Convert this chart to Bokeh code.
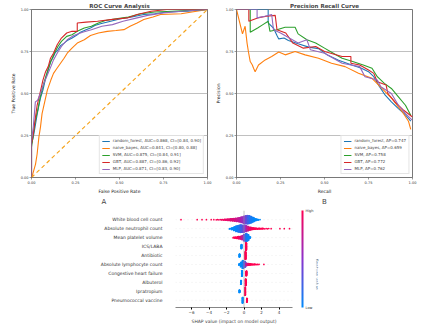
import math
from bokeh.plotting import figure
from bokeh.layouts import column, row
from bokeh.models import (Range1d, FixedTicker, Title, ColorBar, LinearColorMapper,
                          Span, PrintfTickFormatter, LinearAxis)
from bokeh.embed import file_html
from bokeh.resources import INLINE

FONT = "DejaVu Sans"

# ---------------- data ----------------
models = ["random_forest", "naive_bayes", "SVM", "GBT", "MLP"]
model_colors = ["#1f77b4", "#ff7f0e", "#2ca02c", "#d62728", "#9467bd"]
auc = [0.868, 0.841, 0.875, 0.887, 0.871]
ci_lo = [0.84, 0.80, 0.84, 0.86, 0.83]
ci_hi = [0.90, 0.88, 0.91, 0.92, 0.90]
ap = [0.747, 0.659, 0.758, 0.772, 0.762]

rf_fpr = [0, 0, 0.01, 0.02, 0.032, 0.05, 0.065, 0.08, 0.095, 0.108, 0.12, 0.136, 0.15, 0.165, 0.185, 0.203, 0.231, 0.26, 0.278, 0.31, 0.335, 0.36, 0.392, 0.45, 0.506, 0.57, 0.638, 0.7, 0.77, 0.884, 1]
rf_tpr = [0, 0.2, 0.24, 0.3, 0.375, 0.47, 0.52, 0.59, 0.64, 0.69, 0.71, 0.745, 0.76, 0.785, 0.8, 0.815, 0.83, 0.85, 0.865, 0.88, 0.89, 0.905, 0.915, 0.93, 0.945, 0.955, 0.97, 0.975, 0.985, 0.99, 1]
nb_fpr = [0, 0.007, 0.023, 0.032, 0.042, 0.051, 0.06, 0.075, 0.09, 0.11, 0.125, 0.145, 0.165, 0.185, 0.203, 0.23, 0.26, 0.3, 0.335, 0.38, 0.43, 0.48, 0.525, 0.56, 0.6, 0.638, 0.69, 0.733, 0.85, 1]
nb_tpr = [0, 0.02, 0.08, 0.14, 0.24, 0.3, 0.38, 0.45, 0.52, 0.58, 0.62, 0.65, 0.68, 0.71, 0.74, 0.77, 0.8, 0.82, 0.845, 0.86, 0.87, 0.875, 0.88, 0.9, 0.92, 0.94, 0.955, 0.97, 0.975, 1]
svm_fpr = [0, 0, 0.01, 0.02, 0.035, 0.05, 0.07, 0.09, 0.11, 0.13, 0.15, 0.17, 0.2, 0.23, 0.26, 0.3, 0.34, 0.38, 0.42, 0.48, 0.55, 0.62, 0.7, 0.8, 0.9, 1]
svm_tpr = [0, 0.18, 0.25, 0.33, 0.4, 0.48, 0.56, 0.63, 0.69, 0.74, 0.78, 0.81, 0.84, 0.85, 0.87, 0.89, 0.9, 0.92, 0.935, 0.945, 0.955, 0.975, 0.985, 0.99, 0.995, 1]
gbt_fpr = [0, 0, 0.01, 0.02, 0.032, 0.05, 0.065, 0.08, 0.095, 0.108, 0.125, 0.146, 0.17, 0.2, 0.23, 0.26, 0.26, 0.31, 0.375, 0.45, 0.545, 0.6, 0.68, 0.77, 1]
gbt_tpr = [0, 0.2, 0.26, 0.34, 0.43, 0.51, 0.58, 0.63, 0.66, 0.71, 0.74, 0.79, 0.83, 0.86, 0.87, 0.87, 0.92, 0.925, 0.93, 0.94, 0.95, 0.97, 0.99, 1, 1]
mlp_fpr = [0, 0, 0.01, 0.022, 0.035, 0.05, 0.07, 0.09, 0.11, 0.125, 0.146, 0.17, 0.203, 0.24, 0.29, 0.34, 0.4, 0.46, 0.52, 0.6, 0.66, 0.75, 0.85, 1]
mlp_tpr = [0, 0.22, 0.3, 0.45, 0.46, 0.5, 0.56, 0.61, 0.66, 0.7, 0.74, 0.78, 0.82, 0.845, 0.865, 0.88, 0.9, 0.91, 0.93, 0.95, 0.965, 0.98, 0.99, 1]

rf_rec = [0, 0.18, 0.18, 0.2, 0.21, 0.23, 0.24, 0.27, 0.295, 0.35, 0.41, 0.466, 0.52, 0.58, 0.655, 0.71, 0.75, 0.78, 0.807, 0.845, 0.88, 0.92, 0.958, 0.99]
rf_prec = [1, 1, 0.92, 0.9, 0.89, 0.845, 0.825, 0.83, 0.816, 0.796, 0.776, 0.767, 0.727, 0.698, 0.67, 0.65, 0.63, 0.6, 0.55, 0.49, 0.45, 0.41, 0.375, 0.335]
nb_rec = [0, 0.034, 0.049, 0.06, 0.068, 0.078, 0.09, 0.097, 0.106, 0.125, 0.163, 0.2, 0.24, 0.277, 0.333, 0.39, 0.466, 0.54, 0.617, 0.693, 0.77, 0.826, 0.883, 0.94, 0.977, 0.99]
nb_prec = [1, 0.855, 0.9, 0.8, 0.747, 0.69, 0.67, 0.65, 0.63, 0.67, 0.70, 0.72, 0.747, 0.73, 0.75, 0.73, 0.71, 0.68, 0.66, 0.62, 0.59, 0.53, 0.47, 0.394, 0.335, 0.286]
svm_rec = [0, 0.078, 0.078, 0.12, 0.15, 0.18, 0.19, 0.23, 0.276, 0.333, 0.35, 0.4, 0.45, 0.5, 0.55, 0.6, 0.66, 0.72, 0.77, 0.8, 0.84, 0.88, 0.92, 0.96, 0.99]
svm_prec = [1, 1, 0.865, 0.89, 0.91, 0.93, 0.87, 0.88, 0.894, 0.894, 0.855, 0.82, 0.8, 0.77, 0.74, 0.71, 0.69, 0.67, 0.65, 0.6, 0.56, 0.53, 0.48, 0.43, 0.37]
gbt_rec = [0, 0.07, 0.07, 0.12, 0.17, 0.22, 0.23, 0.28, 0.32, 0.38, 0.45, 0.5, 0.6, 0.65, 0.65, 0.7, 0.75, 0.78, 0.8, 0.85, 0.86, 0.9, 0.95, 1.0]
gbt_prec = [1, 1, 0.93, 0.95, 0.96, 0.965, 0.88, 0.86, 0.8, 0.77, 0.78, 0.75, 0.72, 0.72, 0.68, 0.67, 0.64, 0.62, 0.57, 0.55, 0.5, 0.45, 0.4, 0.36]
mlp_rec = [0, 0.117, 0.117, 0.16, 0.2, 0.21, 0.25, 0.3, 0.35, 0.4, 0.42, 0.5, 0.55, 0.6, 0.7, 0.73, 0.8, 0.82, 0.88, 0.92, 0.96, 1.0]
mlp_prec = [1, 1, 0.95, 0.96, 0.97, 0.88, 0.86, 0.83, 0.8, 0.82, 0.76, 0.74, 0.71, 0.68, 0.66, 0.6, 0.58, 0.54, 0.5, 0.43, 0.38, 0.34]

axis_ticks = [0, 0.25, 0.5, 0.75, 1.0]

# SHAP summary (values read as binned counts; colour = feature value 0 low .. 1 high)
features = ["White blood cell count", "Absolute neutrophil count", "Mean platelet volume",
            "ICS/LABA", "Antibiotic", "Absolute lymphocyte count", "Congestive heart failure",
            "Albuterol", "Ipratropium", "Pneumococcal vaccine"]
wbc_shap = [-7.2, -5.35, -4.8, -4.3, -3.75, -3.45, -3.05, -2.75, -2.45, -2.2, -1.95, -1.7, -1.45, -1.2, -0.95, -0.7, -0.45, -0.2, 0.05, 0.3, 0.55, 0.8, 1.05, 1.3, 1.55, 1.8]
wbc_count = [1, 1, 1, 1, 1, 1, 2, 2, 3, 5, 7, 9, 12, 15, 18, 22, 28, 36, 46, 54, 52, 42, 28, 14, 6, 2]
wbc_color = [1, 1, 1, 1, 1, 1, 1, 0.95, 0.95, 0.95, 0.9, 0.9, 0.85, 0.85, 0.8, 0.75, 0.7, 0.6, 0.5, 0.35, 0.2, 0.1, 0.05, 0, 0, 0]
anc_shap = [-1.55, -1.3, -1.05, -0.8, -0.55, -0.3, -0.05, 0.2, 0.45, 0.7, 0.95, 1.2, 1.45, 1.7, 1.95, 2.2, 2.5, 2.8, 3.1, 4.1, 4.6, 5.2]
anc_count = [4, 12, 24, 36, 44, 48, 46, 38, 28, 18, 12, 8, 6, 5, 4, 3, 2, 2, 1, 1, 1, 1]
anc_color = [0, 0, 0, 0.05, 0.1, 0.2, 0.35, 0.55, 0.75, 0.9, 0.95, 1, 1, 1, 1, 1, 1, 1, 1, 1, 1, 1]
mpv_shap = [-1.15, -0.95, -0.75, -0.55, -0.35, -0.15, 0.05, 0.25, 0.45, 0.65]
mpv_count = [3, 6, 10, 14, 18, 26, 40, 52, 40, 10]
mpv_color = [1, 1, 1, 0.95, 0.85, 0.7, 0.4, 0.15, 0.05, 0]
ics_shap, ics_count, ics_color = [-0.29, 0.25], [26, 48], [0, 1]
abx_shap, abx_count, abx_color = [-0.51, 0.17], [18, 50], [0, 1]
alc_shap = [-0.5, -0.3, -0.1, 0.1, 0.3, 0.5, 0.7, 0.9, 1.1, 1.3, 1.5, 1.7, 2.27]
alc_count = [8, 30, 50, 36, 16, 10, 7, 5, 4, 3, 2, 2, 1]
alc_color = [0, 0, 0.05, 0.3, 0.7, 0.9, 1, 1, 1, 1, 1, 1, 1]
chf_shap, chf_count, chf_color = [-0.23, 0.27], [36, 30], [0, 1]
alb_shap, alb_count, alb_color = [-0.34, 0.2], [24, 42], [0, 1]
ipr_shap, ipr_count, ipr_color = [-0.51, 0.13], [16, 52], [0, 1]
pnv_shap, pnv_count, pnv_color = [-0.15, 0.34], [36, 24], [0, 1]
shap_ticks = [-6, -4, -2, 0, 2, 4]

# ---------------- helpers ----------------
def cmap(t):
    stops = [(0.0, (0, 139, 251)), (0.5, (140, 50, 205)), (1.0, (255, 0, 82))]
    for (t0, c0), (t1, c1) in zip(stops[:-1], stops[1:]):
        if t <= t1:
            f = (t - t0) / (t1 - t0)
            return "#%02x%02x%02x" % tuple(int(round(a + (b - a) * f)) for a, b in zip(c0, c1))
    return "#ff0052"

def style_top(p, xlabel, ylabel):
    p.x_range = Range1d(0, 1)
    p.y_range = Range1d(0, 1)
    for ax in (p.xaxis[0], p.yaxis[0]):
        ax.ticker = FixedTicker(ticks=axis_ticks)
        ax.formatter = PrintfTickFormatter(format="%.2f")
        ax.major_label_text_font_size = "3.5px"
        ax.major_label_text_font = FONT
        ax.major_label_text_color = "#333333"
        ax.axis_label_text_font_size = "4.5px"
        ax.axis_label_text_font = FONT
        ax.axis_label_text_font_style = "normal"
        ax.axis_label_text_color = "#222222"
        ax.axis_line_color = None
        ax.major_tick_out = 2
        ax.major_tick_in = 0
        ax.major_tick_line_color = "#555555"
        ax.major_tick_line_width = 0.6
        ax.minor_tick_line_color = None
        ax.major_label_standoff = 1
        ax.axis_label_standoff = 2
    p.xaxis.axis_label = xlabel
    p.yaxis.axis_label = ylabel
    p.xgrid.visible = False
    p.ygrid.grid_line_color = "#b0b0b0"
    p.ygrid.grid_line_width = 0.8
    p.outline_line_color = "#555555"
    p.outline_line_width = 0.8
    p.title.align = "center"
    p.title.text_font = FONT
    p.title.text_font_size = "5.5px"
    p.title.text_font_style = "bold"
    p.title.standoff = 1

def style_legend(p):
    lg = p.legend[0]
    lg.location = "bottom_right"
    lg.margin = 3
    lg.padding = 2
    lg.spacing = 2
    lg.label_text_font_size = "4px"
    lg.label_text_font = FONT
    lg.label_height = 4
    lg.glyph_height = 4
    lg.glyph_width = 8
    lg.label_standoff = 3
    lg.border_line_color = "#cccccc"
    lg.border_line_width = 0.6
    lg.background_fill_alpha = 0.8

# ---------------- ROC ----------------
p1 = figure(width=212, height=205, output_backend="svg", toolbar_location=None,
            title="ROC Curve Analysis", min_border_left=31, min_border_right=5,
            min_border_top=7, min_border_bottom=28)
style_top(p1, "False Positive Rate", "True Positive Rate")
roc_x = [rf_fpr, nb_fpr, svm_fpr, gbt_fpr, mlp_fpr]
roc_y = [rf_tpr, nb_tpr, svm_tpr, gbt_tpr, mlp_tpr]
for i in range(5):
    p1.line(roc_x[i], roc_y[i], line_color=model_colors[i], line_width=1.1,
            legend_label="%s, AUC=%.3f, CI=[%.2f, %.2f]" % (models[i], auc[i], ci_lo[i], ci_hi[i]))
p1.line([0, 1], [0, 1], line_color="#f5a31a", line_width=1.1, line_dash="4 3")
style_legend(p1)
p1.add_layout(Title(text="A", align="left", offset=70, text_font=FONT, text_font_size="7px",
                    text_font_style="normal", standoff=-2), "below")

# ---------------- PR ----------------
p2 = figure(width=226, height=205, output_backend="svg", toolbar_location=None,
            title="Precision Recall Curve", min_border_left=24, min_border_right=26,
            min_border_top=7, min_border_bottom=28)
style_top(p2, "Recall", "Precision")
pr_x = [rf_rec, nb_rec, svm_rec, gbt_rec, mlp_rec]
pr_y = [rf_prec, nb_prec, svm_prec, gbt_prec, mlp_prec]
for i in range(5):
    p2.line(pr_x[i], pr_y[i], line_color=model_colors[i], line_width=1.1,
            legend_label="%s, AP=%.3f" % (models[i], ap[i]))
style_legend(p2)
p2.add_layout(Title(text="B", align="center", text_font=FONT, text_font_size="7px",
                    text_font_style="normal", standoff=-2), "below")

# ---------------- SHAP ----------------
p3 = figure(width=438, height=121, output_backend="svg", toolbar_location=None,
            x_range=Range1d(-7.83, 5.54), y_range=Range1d(-0.81, 10.03),
            min_border_left=175, min_border_right=146, min_border_top=5, min_border_bottom=18)
p3.outline_line_color = None
p3.grid.visible = False

shap_rows = [(wbc_shap, wbc_count, wbc_color, 0.25), (anc_shap, anc_count, anc_color, 0.25),
             (mpv_shap, mpv_count, mpv_color, 0.2), (ics_shap, ics_count, ics_color, 0.08),
             (abx_shap, abx_count, abx_color, 0.08), (alc_shap, alc_count, alc_color, 0.2),
             (chf_shap, chf_count, chf_color, 0.08), (alb_shap, alb_count, alb_color, 0.08),
             (ipr_shap, ipr_count, ipr_color, 0.08), (pnv_shap, pnv_count, pnv_color, 0.08)]

for i in range(len(features)):
    p3.line([-7.83, 5.54], [9 - i, 9 - i], line_color="#dddddd", line_width=0.5, line_dash="1 3")
p3.add_layout(Span(location=0, dimension="height", line_color="#999999", line_width=0.6))

xs, ys, cs = [], [], []
for i, (sv, cnt, col, bw) in enumerate(shap_rows):
    y0 = 9 - i
    for b, c, cv in zip(sv, cnt, col):
        hh = min(0.45, c * 0.0085)
        for j in range(c):
            dy = 0 if c == 1 else -hh + 2 * hh * j / (c - 1)
            dx = 0 if c == 1 else (((j * 0.618034) % 1) - 0.5) * bw
            xs.append(b + dx)
            ys.append(y0 + dy)
            cs.append(cmap(cv))
p3.scatter(xs, ys, size=1.7, fill_color=cs, line_color=None)

xa = p3.xaxis[0]
xa.ticker = FixedTicker(ticks=shap_ticks)
xa.major_label_overrides = {t: ("\u2212%d" % -t if t < 0 else str(t)) for t in shap_ticks}
xa.major_label_text_font_size = "4px"
xa.major_label_text_font = FONT
xa.major_label_text_color = "#333333"
xa.axis_label = "SHAP value (impact on model output)"
xa.axis_label_text_font_size = "4.5px"
xa.axis_label_text_font = FONT
xa.axis_label_text_font_style = "normal"
xa.axis_label_standoff = 2
xa.major_label_standoff = 1
xa.major_tick_out = 2
xa.major_tick_in = 0
xa.minor_tick_line_color = None
xa.axis_line_color = "#333333"
xa.axis_line_width = 0.6

ya = p3.yaxis[0]
ya.ticker = FixedTicker(ticks=list(range(10)))
ya.major_label_overrides = {9 - i: f for i, f in enumerate(features)}
ya.major_label_text_font_size = "4.5px"
ya.major_label_text_font = FONT
ya.major_label_text_color = "#333333"
ya.axis_line_color = None
ya.major_tick_line_color = None
ya.minor_tick_line_color = None
ya.major_label_standoff = 7

palette = [cmap(k / 255) for k in range(256)]
cb = ColorBar(color_mapper=LinearColorMapper(palette=palette, low=0, high=1),
              ticker=FixedTicker(ticks=[0, 1]), major_label_overrides={0: "Low", 1: "High"},
              width=2, margin=0, padding=0, label_standoff=2, location=(9, 0),
              major_tick_line_color=None, bar_line_color=None,
              major_label_text_font_size="3.5px", major_label_text_font=FONT,
              major_label_text_color="#333333")
p3.add_layout(cb, "right")

fv_axis = LinearAxis(axis_label="Feature value", ticker=FixedTicker(ticks=[]),
                     axis_line_color=None, major_tick_line_color=None,
                     minor_tick_line_color=None, major_label_text_font_size="0px",
                     axis_label_text_font=FONT, axis_label_text_font_size="4.5px",
                     axis_label_text_font_style="normal", axis_label_text_color="#333333",
                     axis_label_standoff=0)
try:
    fv_axis.axis_label_orientation = -math.pi / 2
except Exception:
    pass
p3.add_layout(fv_axis, "right")

layout = column(row(p1, p2), p3)
open("out.html", "w").write(file_html(layout, INLINE))
